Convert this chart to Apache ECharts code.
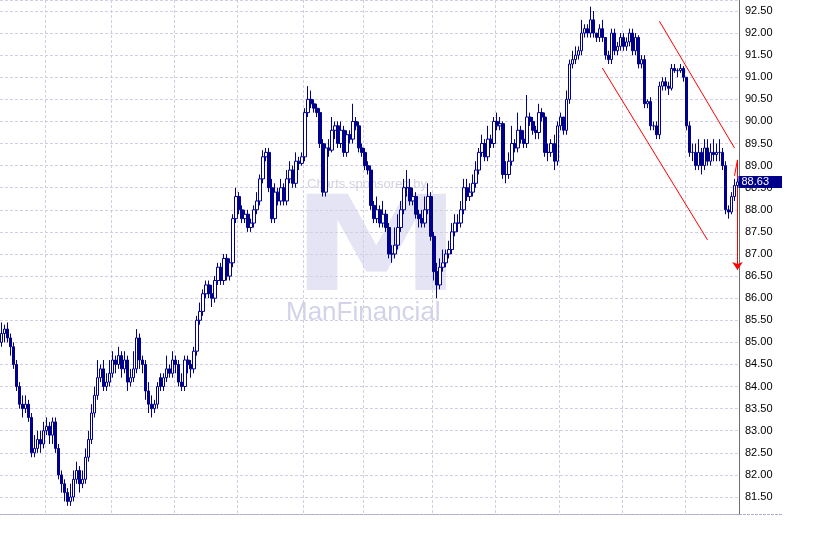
<!DOCTYPE html>
<html>
<head>
<meta charset="utf-8">
<script src="https://cdn.jsdelivr.net/npm/echarts@6/dist/echarts.min.js"></script>
<style>html,body{margin:0;padding:0;background:#fff;}#c{width:832px;height:539px;}</style>
</head>
<body>
<div id="c"></div>
<script>
const opens = [85.0,85.2,85.3,85.1,84.9,84.5,84.0,83.6,83.5,83.6,83.3,82.5,82.6,82.8,82.7,83.0,83.1,82.9,83.2,82.6,
82.0,81.8,81.6,81.4,81.5,81.9,82.1,81.8,81.9,82.4,82.8,83.4,83.8,84.2,84.4,84.0,84.1,84.3,84.6,84.5,
84.7,84.4,84.6,84.1,84.2,84.4,85.1,84.6,84.5,83.9,83.6,83.5,83.6,84.2,84.0,84.2,84.4,84.3,84.6,84.5,
84.1,84.0,84.6,84.5,84.4,84.8,85.5,85.7,86.1,86.3,86.1,86.0,86.4,86.7,86.4,86.9,86.5,86.8,87.8,88.3,
88.0,87.8,87.9,87.6,87.7,88.0,88.2,88.7,89.2,89.3,88.5,87.8,88.4,88.2,88.5,88.2,88.7,88.9,88.6,89.1,
89.05,89.2,90.2,90.5,90.4,90.3,90.2,89.5,88.4,89.4,89.35,89.8,89.9,89.5,89.8,89.3,89.7,89.6,90.0,89.9,
89.4,89.3,89.0,88.9,88.1,87.8,88.0,87.7,87.9,87.6,87.0,87.0,87.2,87.6,88.0,88.5,88.5,88.2,88.3,87.9,
87.8,87.7,88.0,88.3,87.4,86.6,86.3,86.7,86.8,87.0,87.1,87.5,87.7,87.7,88.0,88.5,88.3,88.4,88.6,88.9,
89.3,89.5,89.2,89.6,89.5,90.0,89.9,89.95,88.8,88.8,89.1,89.5,89.4,89.8,89.6,89.5,90.1,90.0,89.8,89.75,
90.2,90.1,89.3,89.3,89.5,89.1,89.9,90.1,89.8,90.5,91.3,91.4,91.5,91.6,92.0,92.1,92.0,92.3,92.0,91.9,
92.1,91.9,91.5,91.4,92.0,91.6,91.7,91.9,91.7,91.8,92.0,91.6,91.9,91.3,91.4,90.4,90.45,89.9,89.9,89.7,
90.8,90.9,90.8,90.75,91.2,91.15,91.15,91.2,91.0,89.9,89.3,89.3,89.0,89.3,89.0,89.4,89.1,89.3,89.25,89.3,
89.3,89.0,88.0,87.95,88.3,88.55];
const closes = [85.2,85.3,85.1,84.9,84.5,84.0,83.6,83.5,83.6,83.3,82.5,82.6,82.8,82.7,83.0,83.1,82.9,83.2,82.6,82.0,
81.8,81.6,81.4,81.5,81.9,82.1,81.8,81.9,82.4,82.8,83.4,83.8,84.2,84.4,84.0,84.1,84.3,84.6,84.5,84.7,
84.4,84.6,84.1,84.2,84.4,85.1,84.6,84.5,83.9,83.6,83.5,83.6,84.0,84.0,84.2,84.4,84.3,84.6,84.5,84.1,
84.0,84.6,84.5,84.4,84.8,85.5,85.7,86.1,86.3,86.1,86.0,86.4,86.7,86.4,86.9,86.5,86.8,87.8,88.3,88.0,
87.8,87.9,87.6,87.7,88.0,88.2,88.7,89.2,89.3,88.5,87.8,88.4,88.2,88.5,88.2,88.7,88.9,88.6,89.1,89.05,
89.2,90.2,90.5,90.4,90.3,90.2,89.5,88.4,89.4,89.35,89.8,89.9,89.5,89.8,89.3,89.7,89.6,90.0,89.9,89.4,
89.3,89.0,88.9,88.1,87.8,88.0,87.7,87.9,87.6,87.0,87.0,87.2,87.6,88.0,88.5,88.5,88.2,88.3,87.9,87.8,
87.7,88.0,88.3,87.4,86.6,86.3,86.7,86.8,87.0,87.1,87.5,87.7,87.7,88.0,88.5,88.3,88.4,88.6,88.9,89.3,
89.5,89.2,89.6,89.5,90.0,89.9,89.95,88.8,88.8,89.1,89.5,89.4,89.8,89.6,89.5,90.1,90.0,89.8,89.75,90.2,
90.1,89.3,89.3,89.5,89.1,89.9,90.1,89.8,90.5,91.3,91.4,91.5,91.6,92.0,92.1,92.0,92.3,92.0,91.9,92.1,
91.9,91.5,91.4,92.0,91.6,91.7,91.9,91.7,91.8,92.0,91.6,91.9,91.3,91.4,90.4,90.45,89.9,89.9,89.7,90.8,
90.9,90.8,90.75,91.2,91.15,91.15,91.2,91.0,89.9,89.3,89.3,89.0,89.3,89.0,89.4,89.1,89.3,89.25,89.3,89.3,
89.0,88.0,87.95,88.3,88.55,88.63];
const lows = [84.9,85.0,85.0,84.7,84.4,83.9,83.5,83.3,83.4,83.2,82.4,82.4,82.5,82.5,82.6,82.9,82.7,82.7,82.5,81.9,
81.6,81.4,81.3,81.3,81.4,81.8,81.6,81.7,81.8,82.3,82.7,83.3,83.7,84.1,83.9,83.9,84.0,84.2,84.3,84.4,
84.2,84.3,83.9,84.0,84.1,84.3,84.4,84.3,83.7,83.4,83.3,83.4,83.5,83.9,83.9,84.1,84.2,84.2,84.3,84.0,
83.9,83.9,84.3,84.2,84.3,84.7,85.4,85.6,86.0,86.0,85.8,85.9,86.3,86.3,86.3,86.4,86.4,86.7,87.7,87.9,
87.7,87.7,87.5,87.5,87.6,87.9,88.1,88.6,89.1,88.4,87.7,87.7,88.1,88.1,88.1,88.1,88.6,88.5,88.5,88.9,
89.0,89.1,90.1,90.3,90.2,90.1,89.4,88.3,88.3,89.2,89.3,89.6,89.4,89.4,89.2,89.2,89.5,89.5,89.8,89.3,
89.2,88.9,88.8,88.0,87.7,87.7,87.6,87.6,87.5,86.9,86.8,86.9,87.1,87.5,87.9,88.3,88.1,88.1,87.8,87.6,
87.6,87.6,87.9,87.3,86.4,86.0,86.2,86.6,86.7,86.9,87.0,87.4,87.5,87.6,87.9,88.2,88.2,88.3,88.5,88.8,
89.2,89.1,89.1,89.4,89.4,89.8,89.8,88.7,88.6,88.7,89.0,89.3,89.3,89.5,89.4,89.4,89.9,89.7,89.6,89.6,
90.0,89.2,89.1,89.2,88.9,89.0,89.8,89.7,89.7,90.4,91.2,91.3,91.4,91.5,91.9,91.9,91.9,91.9,91.8,91.8,
91.8,91.4,91.3,91.3,91.5,91.5,91.6,91.6,91.6,91.7,91.5,91.5,91.2,91.2,90.3,90.3,89.8,89.8,89.6,89.6,
90.7,90.7,90.6,90.7,91.1,91.0,91.1,90.9,89.8,89.2,89.1,88.9,88.9,88.8,88.9,89.0,89.0,89.1,89.1,89.1,
88.9,87.9,87.8,87.9,88.2,88.5];
const highs = [85.45,85.4,85.45,85.2,85.0,84.6,84.1,83.8,83.8,83.7,83.4,82.9,83.0,83.0,83.2,83.3,83.2,83.3,83.3,82.7,
82.1,81.9,81.7,81.8,82.1,82.3,82.2,82.1,82.6,83.0,83.6,84.0,84.6,84.5,84.6,84.3,84.6,84.8,84.7,84.9,
84.8,84.8,84.7,84.4,84.8,85.3,85.2,84.7,84.6,84.1,83.8,83.7,84.1,84.3,84.3,84.7,84.5,84.8,84.7,84.6,
84.3,84.7,84.7,84.6,84.9,85.6,85.9,86.2,86.4,86.4,86.3,86.5,86.8,86.8,87.0,87.0,86.9,87.9,88.5,88.4,
88.1,88.0,88.0,87.8,88.1,88.4,88.8,89.35,89.4,89.4,88.7,88.6,88.5,88.7,88.6,88.9,89.1,89.0,89.3,89.2,
89.3,90.3,90.8,90.7,90.5,90.4,90.3,89.6,89.5,89.6,90.1,90.0,90.0,90.0,89.9,89.8,89.8,90.4,90.1,90.0,
89.5,89.4,89.1,89.0,88.2,88.3,88.1,88.2,88.0,87.7,87.2,87.6,87.9,88.2,88.7,88.9,88.7,88.5,88.4,88.0,
88.0,88.3,88.6,88.4,87.5,86.8,86.9,87.1,87.1,87.3,87.7,87.9,87.9,88.2,88.7,88.7,88.6,88.8,89.1,89.4,
89.7,89.6,89.9,89.7,90.1,90.2,90.1,90.0,89.1,89.3,89.9,89.6,90.2,89.9,89.8,90.6,90.2,90.1,89.9,90.4,
90.3,90.2,89.5,89.6,89.7,90.0,90.2,90.1,90.7,91.4,91.6,91.7,91.7,92.3,92.2,92.2,92.6,92.5,92.0,92.2,
92.3,91.9,91.6,92.1,92.1,91.8,92.0,92.0,91.9,92.1,92.1,92.0,91.95,91.5,91.5,90.5,90.55,90.0,90.0,90.9,
91.0,91.0,90.9,91.3,91.3,91.2,91.3,91.25,91.0,90.0,89.5,89.5,89.6,89.4,89.6,89.6,89.5,89.6,89.5,89.6,
89.4,89.1,88.1,88.4,88.7,88.7];
// first trading day index of each month (vertical grid lines)
const monthStarts = [15, 37, 58, 79, 101, 121, 144, 165, 186, 207, 228];
const lastPrice = 88.63;
// trend channel and projection (day index, price)
const upperChannel = [[219, 92.27], [244, 89.40]];
const lowerChannel = [[200, 91.21], [235, 87.32]];
const projectionUp = [[244, 88.77], [245, 89.13]];
const projectionDown = [[245, 89.13], [245, 86.64]];

const days = closes.map((_, i) => String(i));
const ohlc = closes.map((c, i) => [opens[i], c, lows[i], highs[i]]);
const navy = '#00008B';
const gridColor = '#d2cee4';

const chart = echarts.init(document.getElementById('c'), null, {renderer: 'canvas'});
const redLine = (pts, arrow) => [
  {coord: pts[0], symbol: 'none', lineStyle: {color: '#ff0000', width: 1, type: 'solid'}, label: {show: false}},
  {coord: pts[1], symbol: arrow ? 'arrow' : 'none', symbolSize: 8}
];
chart.setOption({
  animation: false,
  backgroundColor: '#ffffff',
  grid: {left: 0, right: 93, top: 0, bottom: 25, containLabel: false},
  xAxis: {
    type: 'category',
    data: days,
    boundaryGap: true,
    axisLine: {show: true, lineStyle: {color: '#b0acd0', width: 1, type: [3, 1]}},
    axisTick: {show: false},
    axisLabel: {show: false},
    splitLine: {
      show: true,
      interval: (idx) => monthStarts.indexOf(idx) >= 0,
      lineStyle: {color: gridColor, type: [3, 2], width: 1}
    }
  },
  yAxis: {
    type: 'value',
    position: 'right',
    min: 81.115,
    max: 92.749,
    splitNumber: 23,
    minInterval: 0.5,
    maxInterval: 0.5,
    scale: true,
    axisLine: {show: true, onZero: false, lineStyle: {color: '#6e6e6e', width: 1}},
    axisTick: {show: false},
    axisLabel: {
      margin: 6,
      color: '#000000',
      fontFamily: 'Liberation Sans',
      fontSize: 11,
      showMinLabel: false,
      showMaxLabel: false,
      formatter: (v) => (Math.abs(v * 2 - Math.round(v * 2)) < 1e-6 ? v.toFixed(2) : '')
    },
    splitLine: {show: true, lineStyle: {color: gridColor, type: [3, 2], width: 1}}
  },
  graphic: [
    {type: 'line', z: 0, shape: {x1: 739, y1: 514.5, x2: 782, y2: 514.5}, style: {stroke: '#b0acd0', lineWidth: 1, lineDash: [3, 1]}},
    {type: 'text', z: 0, x: 291, y: 190, scaleX: 1.3, style: {text: 'M', fill: '#e4e4f5', font: 'bold 132px "DejaVu Sans"'}},
    {type: 'text', z: 0, x: 307, y: 178, style: {text: 'Charts sponsored by', fill: '#d2d2e2', font: '13px "Liberation Sans"'}},
    {type: 'text', z: 0, x: 286, y: 300, style: {text: 'ManFinancial', fill: '#d2d2ea', font: '26px "Liberation Sans"'}}
  ],
  series: [{
    type: 'candlestick',
    data: ohlc,
    barWidth: 3,
    clip: false,
    z: 5,
    itemStyle: {
      color: '#ffffff',
      color0: navy,
      borderColor: navy,
      borderColor0: navy,
      borderWidth: 1
    },
    markLine: {
      silent: true,
      animation: false,
      symbol: ['none', 'none'],
      data: [
        [
          {coord: [0, lastPrice], symbol: 'none', lineStyle: {color: 'rgba(0,0,0,0)', width: 1},
           label: {
             show: true, position: 'end', distance: 1,
             formatter: lastPrice.toFixed(2),
             color: '#ffffff', backgroundColor: navy,
             fontFamily: 'Liberation Sans', fontSize: 11,
             padding: [1, 13, 0, 3]
           }},
          {coord: [245, lastPrice], symbol: 'none'}
        ],
        redLine(upperChannel, false),
        redLine(lowerChannel, false),
        redLine(projectionUp, false),
        redLine(projectionDown, true)
      ]
    }
  }]
});
</script>
</body>
</html>
